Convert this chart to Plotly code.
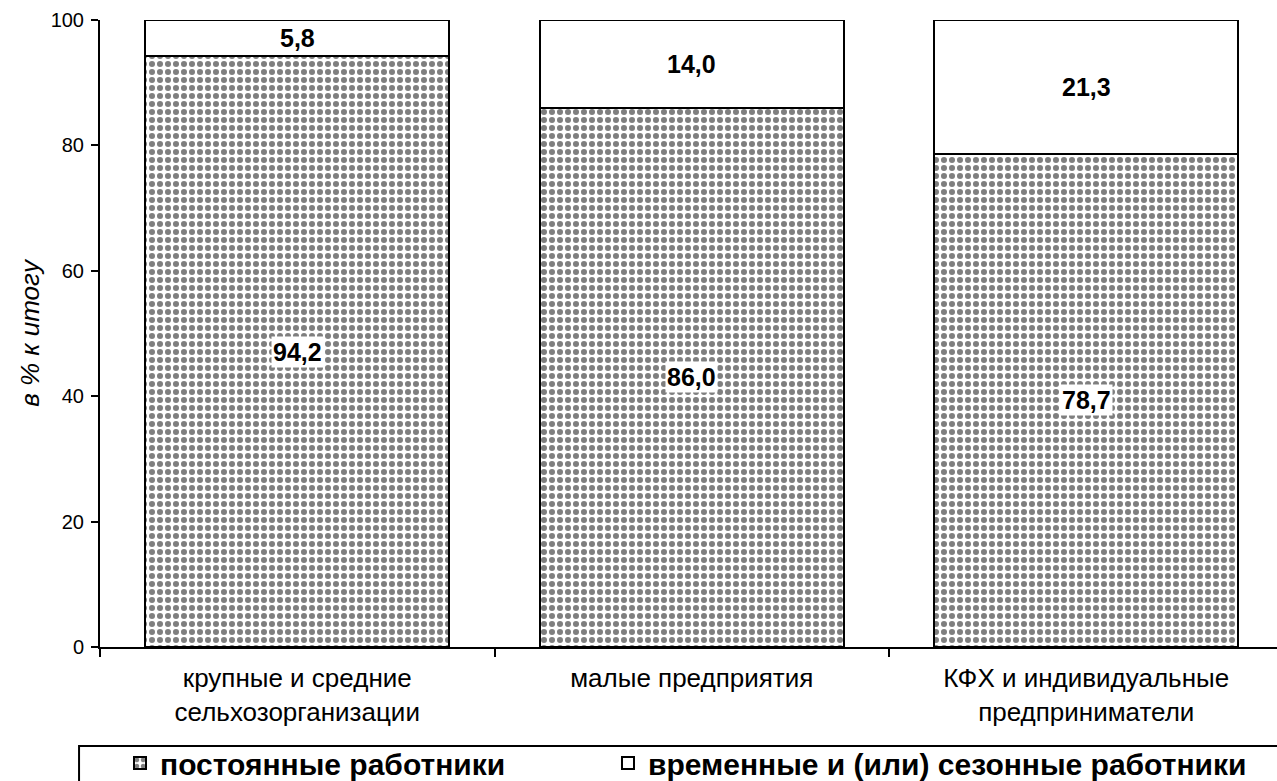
import plotly.graph_objects as go

categories = ["крупные и средние<br>сельхозорганизации", "малые предприятия", "КФХ и индивидуальные<br>предприниматели"]
permanent = [94.2, 86.0, 78.7]
seasonal = [5.8, 14.0, 21.3]
series_names = ["постоянные работники", "временные и (или) сезонные работники"]
y_ticks = [0, 20, 40, 60, 80, 100]

FONT = "Liberation Sans, Arial, sans-serif"

def fmt(v):
    return f"{v:.1f}".replace(".", ",")

fig = go.Figure()
fig.add_trace(go.Bar(
    x=categories, y=permanent, name="<b>" + series_names[0] + "</b>", legend="legend",
    marker=dict(color="white", line=dict(color="black", width=2),
                pattern=dict(shape=".", fgcolor="black", bgcolor="white", size=8, solidity=0.45)),
    cliponaxis=False,
))
fig.add_trace(go.Bar(
    x=categories, y=seasonal, name="<b>" + series_names[1] + "</b>", legend="legend2",
    marker=dict(color="white", line=dict(color="black", width=2)),
    cliponaxis=False,
))

for i, c in enumerate(categories):
    fig.add_annotation(x=c, y=permanent[i] / 2, text="<b>" + fmt(permanent[i]) + "</b>",
                       showarrow=False, bgcolor="white", font=dict(size=25, color="black", family=FONT),
                       borderpad=1)
    fig.add_annotation(x=c, y=permanent[i] + seasonal[i] / 2, text="<b>" + fmt(seasonal[i]) + "</b>",
                       showarrow=False, bgcolor="white", font=dict(size=25, color="black", family=FONT),
                       borderpad=1)

# legend frame
fig.add_shape(type="rect", xref="paper", yref="paper", x0=-0.0178, x1=1.05, y0=-0.158, y1=-0.35,
              line=dict(color="black", width=2), fillcolor="rgba(0,0,0,0)", layer="above")

legend_common = dict(orientation="h", yref="container", yanchor="top", y=0.0563, xanchor="left",
                     font=dict(size=30, family=FONT, color="black"), bgcolor="rgba(0,0,0,0)",
                     borderwidth=0)

fig.update_layout(
    width=1277, height=781,
    margin=dict(l=100, r=0, t=20, b=134),
    paper_bgcolor="white", plot_bgcolor="white",
    barmode="stack", bargap=0.23,
    font=dict(family=FONT, size=20, color="black"),
    showlegend=True,
    legend=dict(x=0.017, **legend_common),
    legend2=dict(x=0.4316, **legend_common),
    xaxis=dict(range=[-0.5, 2.4835], showline=True, linecolor="black", linewidth=2,
               ticks="outside", tickson="boundaries", ticklen=8, tickwidth=2, tickcolor="black",
               showgrid=False, zeroline=False, automargin=False, ticklabelstandoff=7,
               tickfont=dict(size=26, family=FONT)),
    yaxis=dict(range=[0, 100], tickvals=y_ticks, showline=True, linecolor="black", linewidth=2,
               ticks="outside", ticklen=7, tickwidth=2, tickcolor="black",
               showgrid=False, zeroline=False, automargin=False, ticklabelstandoff=3,
               tickfont=dict(size=20, family=FONT),
               title=dict(text="<i>в % к итогу</i>", font=dict(size=26, family=FONT), standoff=4)),
)

fig.write_html("out.html", config={"displayModeBar": False},
               post_script="document.body.style.margin='0';document.body.style.overflow='hidden';")
